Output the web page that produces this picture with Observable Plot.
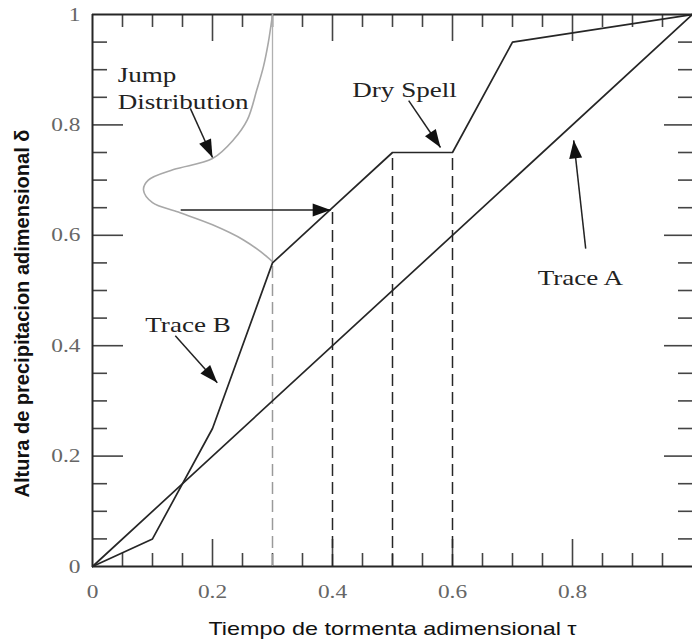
<!DOCTYPE html>
<html><head><meta charset="utf-8">
<script src="https://cdn.jsdelivr.net/npm/d3@7"></script>
<script src="https://cdn.jsdelivr.net/npm/@observablehq/plot@0.6"></script>
<style>
body{margin:0;background:#fff}
</style></head><body><div id="chart"></div>
<script>
// ---- data ----
const traceA_t = [0, 1];
const traceA_d = [0, 1];
const traceB_t = [0, 0.1, 0.2, 0.3, 0.4, 0.5, 0.6, 0.7, 1];
const traceB_d = [0, 0.05, 0.25, 0.55, 0.65, 0.75, 0.75, 0.95, 1];
const jump_t = [0.3, 0.293, 0.285, 0.274, 0.258, 0.235, 0.2, 0.135, 0.093, 0.085, 0.100, 0.143, 0.2, 0.251, 0.291, 0.3];
const jump_d = [1.0, 0.949, 0.906, 0.864, 0.809, 0.773, 0.739, 0.719, 0.700, 0.682, 0.659, 0.642, 0.619, 0.592, 0.561, 0.552];
const dropT = [0.3, 0.4, 0.5, 0.6];
const dropD = [0.55, 0.65, 0.75, 0.75];
const arrowName = ["Jump Distribution", "jump", "Dry Spell", "Trace A", "Trace B"];
const arrowFromT = [0.163, 0.147, 0.527, 0.822, 0.138];
const arrowFromD = [0.830, 0.646, 0.844, 0.576, 0.418];
const arrowToT = [0.200, 0.397, 0.580, 0.802, 0.208];
const arrowToD = [0.741, 0.646, 0.759, 0.772, 0.333];
const labelText = ["Jump\nDistribution", "Dry Spell", "Trace A", "Trace B"];
const labelT = [0.042, 0.433, 0.742, 0.088];
const labelD = [0.869, 0.866, 0.525, 0.440];
const majorTicks = [0.2, 0.4, 0.6, 0.8];
const minorTicks = [0.05, 0.1, 0.15, 0.25, 0.3, 0.35, 0.45, 0.5, 0.55, 0.65, 0.7, 0.75, 0.85, 0.9, 0.95];
const xTickLabels = [0, 0.2, 0.4, 0.6, 0.8];
const yTickLabels = [0, 0.2, 0.4, 0.6, 0.8, 1];
const xTitle = "Tiempo de tormenta adimensional \u03c4";
const yTitle = "Altura de precipitacion adimensional \u03b4";

// ---- layout ----
const W = 692, H = 642, ML = 92, MR = 0, MT = 14, MB = 76;
const plotW = W - ML - MR, plotH = H - MT - MB;
const base = {
  width: W, height: H, marginLeft: ML, marginRight: MR, marginTop: MT, marginBottom: MB,
  x: {domain: [0, 1], axis: null}, y: {domain: [0, 1], axis: null},
  style: {background: "#fff"}
};

const zip = (a, b) => a.map((v, i) => ({t: v, d: b[i]}));
const A = zip(traceA_t, traceA_d);
const B = zip(traceB_t, traceB_d);
const J = zip(jump_t, jump_d);
const drops = dropT.map((t, i) => ({t, d: dropD[i], light: i === 0}));
const arrows = arrowName.map((n, i) => ({n, x1: arrowFromT[i], y1: arrowFromD[i], x2: arrowToT[i], y2: arrowToD[i]}));
const labels = labelText.map((s, i) => ({s, t: labelT[i], d: labelD[i]}));

// first pass to obtain the scales for arrow head angles
const p0 = Plot.plot({...base, marks: [Plot.frame({stroke: "none"})]});
const xs = p0.scale("x"), ys = p0.scale("y");
const sx = d3.scaleLinear(xs.domain, xs.range), sy = d3.scaleLinear(ys.domain, ys.range);
arrows.forEach(a => {
  const dx = sx(a.x2) - sx(a.x1), dy = sy(a.y2) - sy(a.y1);
  a.angle = Math.atan2(dx, -dy) * 180 / Math.PI;
});

const head = {draw(ctx) { const L = 18, w = 6.5; ctx.moveTo(0, 0); ctx.lineTo(w, L); ctx.lineTo(-w, L); ctx.closePath(); }};

const ink = "#262626", tickC = "#444";
const tickMarks = (vals, len, w) => [
  Plot.tickX(vals, {x: d => d, insetTop: plotH - len, stroke: tickC, strokeWidth: w}),
  Plot.tickX(vals, {x: d => d, insetBottom: plotH - len, stroke: tickC, strokeWidth: w}),
];
const tickMarksY = (vals, lenL, lenR, w) => [
  Plot.tickY(vals, {y: d => d, insetRight: plotW - lenL, stroke: tickC, strokeWidth: w}),
  Plot.tickY(vals, {y: d => d, insetLeft: plotW - lenR, stroke: tickC, strokeWidth: w}),
];

const chart = Plot.plot({
  ...base,
  marks: [
    ...tickMarks(minorTicks, 13, 1.6),
    ...tickMarks(majorTicks, 27, 1.6),
    ...tickMarksY(minorTicks, 15, 14, 1.6),
    ...tickMarksY(majorTicks, 31, 28, 1.6),
    Plot.ruleX([0], {stroke: ink, strokeWidth: 2}),
    Plot.ruleY([0], {stroke: ink, strokeWidth: 2}),
    Plot.ruleY([1], {stroke: ink, strokeWidth: 2}),
    // grey jump distribution
    Plot.ruleX([0.3], {y1: 0.55, y2: 1, stroke: "#b0b0b0", strokeWidth: 1.3}),
    Plot.line(J, {x: "t", y: "d", curve: "catmull-rom", stroke: "#a8a8a8", strokeWidth: 1.6}),
    // dashed drops
    Plot.ruleX(drops, {x: "t", y1: 0, y2: "d", stroke: d => d.light ? "#9a9a9a" : ink, strokeWidth: 1.5, strokeDasharray: "12,6"}),
    // traces
    Plot.line(A, {x: "t", y: "d", stroke: ink, strokeWidth: 1.7}),
    Plot.line(B, {x: "t", y: "d", stroke: ink, strokeWidth: 1.7}),
    // arrows
    Plot.link(arrows, {x1: "x1", y1: "y1", x2: "x2", y2: "y2", stroke: "#222", strokeWidth: 1.5}),
    Plot.dot(arrows, {x: "x2", y: "y2", symbol: head, rotate: "angle", fill: "#111", stroke: "none"}),
    // annotations
    Plot.text(labels, {x: "t", y: "d", text: "s", textAnchor: "start", fontFamily: "Liberation Serif", fontSize: 22, lineHeight: 1.23, fill: "#222"}),
    // tick labels
    Plot.text(xTickLabels, {x: d => d, frameAnchor: "bottom", dy: 31, text: d => String(d), fontFamily: "Liberation Serif", fontSize: 19, fill: "#666"}),
    Plot.text(yTickLabels, {y: d => d, frameAnchor: "left", dx: -12, textAnchor: "end", text: d => String(d), fontFamily: "Liberation Serif", fontSize: 19, fill: "#666"}),
    // axis titles
    Plot.text([xTitle], {frameAnchor: "bottom", dy: 68, textAnchor: "middle", text: d => d, fontFamily: "Liberation Sans", fontSize: 19, fill: "#111"}),
    Plot.text([yTitle], {frameAnchor: "left", dx: -70, dy: 23, textAnchor: "middle", rotate: -90, text: d => d, fontFamily: "Liberation Sans", fontWeight: "bold", fontSize: 20, fill: "#111"})
  ]
});
document.getElementById("chart").appendChild(chart);

// the reference's horizontal texts are drawn slightly wide: stretch each horizontal text line
const stretch = 1.23;
d3.select(chart).selectAll("text").each(function() {
  if ((this.getAttribute("transform") || "").includes("rotate")) return;
  const parts = this.querySelectorAll("tspan");
  const els = parts.length ? Array.from(parts) : [this];
  els.forEach(el => {
    const L = el.getComputedTextLength();
    if (L > 0) { el.setAttribute("textLength", (L * stretch).toFixed(1)); el.setAttribute("lengthAdjust", "spacingAndGlyphs"); }
  });
});
</script></body></html>
